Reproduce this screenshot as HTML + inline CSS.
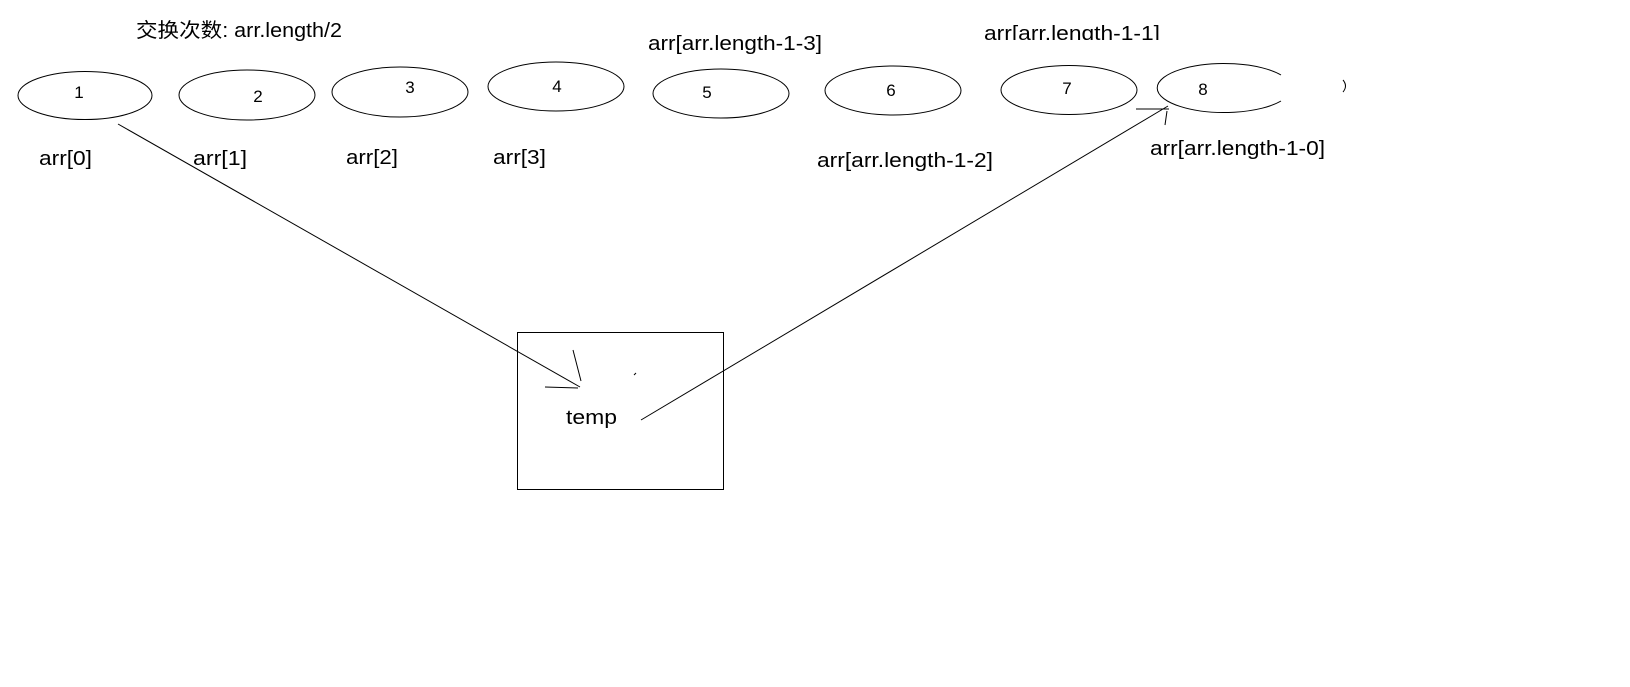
<!DOCTYPE html>
<html><head><meta charset="utf-8"><style>
html,body{margin:0;padding:0;background:#fff;width:1630px;height:687px;overflow:hidden}
svg{display:block}
text{font-family:"Liberation Sans","Noto Sans CJK SC",sans-serif;fill:#000}
</style></head><body>
<svg width="1630" height="687" viewBox="0 0 1630 687">
<g fill="none" stroke="#000" stroke-width="1">
<ellipse cx="85" cy="95.5" rx="67" ry="24"/>
<ellipse cx="247" cy="95" rx="68" ry="25"/>
<ellipse cx="400" cy="92" rx="68" ry="25"/>
<ellipse cx="556" cy="86.5" rx="68" ry="24.5"/>
<ellipse cx="721" cy="93.5" rx="68" ry="24.5"/>
<ellipse cx="893" cy="90.5" rx="68" ry="24.5"/>
<ellipse cx="1069" cy="90" rx="68" ry="24.5"/>
<path d="M1281,75 A67,24.5 0 1 0 1281,101"/>
<path d="M1343,80 Q1348,86 1343,92"/>
<rect x="517.5" y="332.5" width="206" height="157"/>
<line x1="118" y1="124" x2="580" y2="387"/>
<line x1="573" y1="350" x2="581" y2="381"/>
<line x1="545" y1="387" x2="578" y2="388"/>
<line x1="641" y1="420" x2="1168" y2="106"/>
<line x1="1136" y1="109" x2="1169" y2="109"/>
<line x1="1167" y1="111" x2="1165" y2="125"/>
<line x1="634" y1="375" x2="636" y2="373"/>
</g>
<g font-size="17" text-anchor="middle">
<text x="79" y="98">1</text>
<text x="258" y="102">2</text>
<text x="410" y="93">3</text>
<text x="557" y="92">4</text>
<text x="707" y="98">5</text>
<text x="891" y="96">6</text>
<text x="1067" y="94">7</text>
<text x="1203" y="95">8</text>
</g>
<g font-size="20">
<text x="136" y="37" textLength="206" lengthAdjust="spacingAndGlyphs">交换次数: arr.length/2</text>
<text x="39" y="165" textLength="53" lengthAdjust="spacingAndGlyphs">arr[0]</text>
<text x="193" y="165" textLength="54" lengthAdjust="spacingAndGlyphs">arr[1]</text>
<text x="346" y="164" textLength="52" lengthAdjust="spacingAndGlyphs">arr[2]</text>
<text x="493" y="164" textLength="53" lengthAdjust="spacingAndGlyphs">arr[3]</text>
<text x="648" y="50" textLength="174" lengthAdjust="spacingAndGlyphs">arr[arr.length-1-3]</text>
<text x="817" y="167" textLength="176" lengthAdjust="spacingAndGlyphs">arr[arr.length-1-2]</text>
<text x="1150" y="155" textLength="175" lengthAdjust="spacingAndGlyphs">arr[arr.length-1-0]</text>
<svg x="0" y="0" width="1630" height="40" overflow="hidden"><text x="984" y="40" textLength="176" lengthAdjust="spacingAndGlyphs">arr[arr.length-1-1]</text></svg>
<text x="566" y="424" textLength="51" lengthAdjust="spacingAndGlyphs">temp</text>
</g>
</svg>
</body></html>
